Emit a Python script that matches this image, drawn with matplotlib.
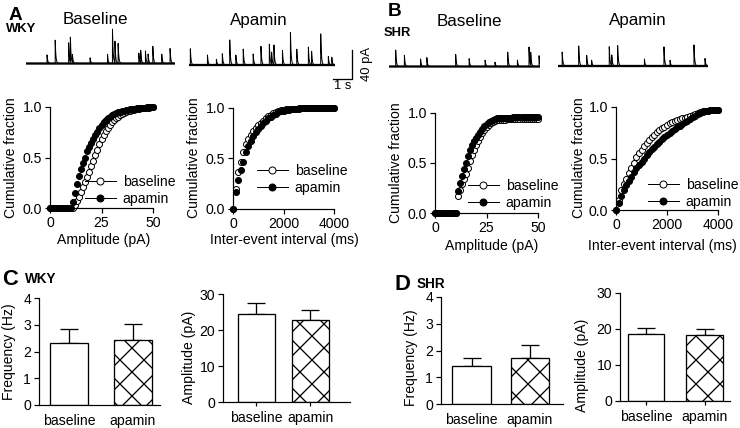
#!/usr/bin/env python3
"""
Spontaneous currents in WKY and SHR neurons: traces, cumulative
distributions and summary bars, baseline vs apamin.
"""

import matplotlib
matplotlib.use("Agg")
import matplotlib.pyplot as plt
from matplotlib.lines import Line2D
import numpy as np

plt.rcParams["font.family"] = ["Liberation Sans", "DejaVu Sans"]

W, H, DPI = 740, 428, 72

# ---- example traces: event time (s) and peak (pA) ----
wky_base_t = [1.11, 1.54, 2.25, 2.34, 2.45, 3.38, 4.30, 4.56, 4.69, 4.86,
              5.95, 6.05, 6.30, 6.44, 6.69, 7.16, 7.60]
wky_base_pa = [12, 33, 29, 35, 11, 8, 13, 50, 31, 28, 15, 18, 18, 13, 24, 13, 21]
wky_base_dur = 7.86

wky_apa_t = [0.07, 0.97, 1.44, 1.75, 2.14, 2.46, 2.85, 3.37, 3.78, 4.22,
             4.34, 4.46, 4.91, 5.33, 5.66, 6.27, 6.44, 6.92, 7.32, 7.50]
wky_apa_pa = [23, 14, 8, 16, 35, 14, 22, 16, 26, 30, 17, 28, 20, 45, 23, 26,
              19, 43, 12, 11]
wky_apa_dur = 7.67

shr_base_t = [0.35, 0.81, 1.66, 1.99, 3.51, 4.22, 5.06, 5.58, 6.25, 6.76,
              7.37, 7.46, 7.90]
shr_base_pa = [24, 16, 11, 13, 17, 11, 9, 6, 20, 9, 28, 18, 15]
shr_base_dur = 7.95

shr_apa_t = [0.22, 1.09, 1.51, 1.77, 2.70, 2.83, 3.14, 4.55, 5.58, 5.90,
             7.16, 7.74]
shr_apa_pa = [20, 28, 15, 8, 27, 15, 29, 10, 27, 8, 30, 11]
shr_apa_dur = 7.90

# ---- cumulative distributions ----
amp_bins = list(range(0, 51))  # pA
wky_amp_base = [0, 0, 0, 0, 0, 0, 0, 0, 0, 0, 0, 0, 0.03, 0.07, 0.11, 0.16,
                0.21, 0.26, 0.31, 0.36, 0.42, 0.47, 0.52, 0.57, 0.63, 0.68,
                0.72, 0.76, 0.79, 0.82, 0.85, 0.87, 0.89, 0.905, 0.92, 0.93,
                0.94, 0.95, 0.958, 0.965, 0.97, 0.975, 0.98, 0.983, 0.986,
                0.989, 0.991, 0.993, 0.995, 0.997, 0.998]
wky_amp_apa = [0, 0, 0, 0, 0, 0, 0, 0, 0, 0, 0, 0.06, 0.15, 0.24, 0.32, 0.39,
               0.45, 0.5, 0.56, 0.6, 0.64, 0.68, 0.72, 0.75, 0.79, 0.82, 0.85,
               0.87, 0.89, 0.905, 0.92, 0.93, 0.94, 0.95, 0.955, 0.96, 0.965,
               0.97, 0.975, 0.978, 0.98, 0.983, 0.986, 0.988, 0.99, 0.992,
               0.994, 0.996, 0.997, 0.998, 1.0]
shr_amp_base = [0, 0, 0, 0, 0, 0, 0, 0, 0, 0, 0, 0.17, 0.23, 0.29, 0.34, 0.39,
                0.45, 0.52, 0.58, 0.63, 0.68, 0.72, 0.76, 0.8, 0.83, 0.86,
                0.88, 0.9, 0.915, 0.925, 0.93, 0.932, 0.933, 0.934, 0.935,
                0.936, 0.937, 0.937, 0.938, 0.938, 0.939, 0.939, 0.94, 0.94,
                0.941, 0.941, 0.942, 0.942, 0.943, 0.944, 0.945]
shr_amp_apa = [0, 0, 0, 0, 0, 0, 0, 0, 0, 0, 0, 0.22, 0.3, 0.37, 0.44, 0.5,
               0.57, 0.63, 0.68, 0.72, 0.75, 0.78, 0.81, 0.84, 0.87, 0.89,
               0.91, 0.925, 0.935, 0.942, 0.948, 0.95, 0.951, 0.952, 0.953,
               0.954, 0.955, 0.955, 0.956, 0.957, 0.958, 0.958, 0.959, 0.96,
               0.96, 0.961, 0.962, 0.962, 0.963, 0.964, 0.965]

iei_bins = list(range(0, 4001, 100))  # ms
wky_iei_base = [0, 0.2, 0.37, 0.47, 0.56, 0.64, 0.69, 0.73, 0.77, 0.8, 0.83,
                0.855, 0.875, 0.9, 0.92, 0.935, 0.95, 0.96, 0.97, 0.977, 0.982,
                0.986, 0.99, 0.992, 0.994, 0.995, 0.996, 0.997, 0.997, 0.998,
                0.998, 0.998, 0.999, 0.999, 0.999, 0.999, 1.0, 1.0, 1.0, 1.0,
                1.0]
wky_iei_apa = [0, 0.17, 0.29, 0.39, 0.47, 0.56, 0.62, 0.67, 0.72, 0.76, 0.79,
               0.82, 0.85, 0.875, 0.9, 0.915, 0.93, 0.945, 0.96, 0.97, 0.975,
               0.98, 0.985, 0.99, 0.992, 0.994, 0.995, 0.996, 0.997, 0.998,
               0.998, 0.999, 0.999, 0.999, 1.0, 1.0, 1.0, 1.0, 1.0, 1.0, 1.0]
shr_iei_base = [0, 0.1, 0.19, 0.25, 0.3, 0.36, 0.41, 0.46, 0.51, 0.55, 0.58,
                0.62, 0.65, 0.68, 0.71, 0.73, 0.755, 0.775, 0.795, 0.81, 0.83,
                0.845, 0.855, 0.865, 0.875, 0.883, 0.89, 0.895, 0.905, 0.915,
                0.925, 0.932, 0.94, 0.95, 0.958, 0.963, 0.966, 0.968, 0.97,
                0.971, 0.972]
shr_iei_apa = [0, 0.07, 0.14, 0.19, 0.24, 0.28, 0.32, 0.37, 0.41, 0.44, 0.47,
               0.5, 0.53, 0.56, 0.59, 0.615, 0.64, 0.665, 0.685, 0.705, 0.73,
               0.75, 0.77, 0.79, 0.805, 0.82, 0.835, 0.85, 0.865, 0.885, 0.9,
               0.915, 0.93, 0.945, 0.953, 0.96, 0.964, 0.967, 0.969, 0.97,
               0.972]

# ---- summary bars (mean, SEM) ----
groups = ["baseline", "apamin"]
wky_freq = [2.32, 2.43]
wky_freq_sem = [0.52, 0.60]
wky_amp = [24.4, 22.7]
wky_amp_sem = [3.2, 2.9]
shr_freq = [1.42, 1.72]
shr_freq_sem = [0.30, 0.48]
shr_amp = [18.6, 18.3]
shr_amp_sem = [1.7, 1.7]

PA_PX = 0.725  # px per pA in the traces
FS = 14


def px_axes(fig, left, top, right, bottom):
    return fig.add_axes([left / W, 1 - bottom / H, (right - left) / W,
                         (bottom - top) / H])


def fig_xy(x, y):
    return x / W, 1 - y / H


def draw_trace(fig, x0, x1, base_y, times, amps, dur):
    ylo, yhi = -6, 56
    ax = px_axes(fig, x0, base_y - yhi * PA_PX, x1, base_y - ylo * PA_PX)
    t = np.linspace(0, dur, 4000)
    y = np.zeros_like(t)
    for t0, a in zip(times, amps):
        m = t >= t0
        y[m] += a * np.exp(-(t[m] - t0) / 0.035)
    ax.plot(t, np.zeros_like(t), color="k", lw=2.3)
    ax.plot(t, y, color="k", lw=1.0)
    ax.set_xlim(0, dur)
    ax.set_ylim(ylo, yhi)
    ax.axis("off")
    return ax


def style_axes(ax):
    for s in ("top", "right"):
        ax.spines[s].set_visible(False)
    for s in ("left", "bottom"):
        ax.spines[s].set_linewidth(1.2)
    ax.tick_params(direction="out", length=5, width=1.2, labelsize=FS, pad=3)


def draw_cdf(fig, box, x, base, apa, xmax, xticks, xlabel, xlab_xy, ylab_xy, leg_xy):
    ax = px_axes(fig, *box)
    ax.plot(x, base, "o", ms=6, mfc="white", mec="k", mew=1.0, clip_on=False, zorder=3)
    ax.plot(x, apa, "o", ms=6, mfc="k", mec="k", mew=1.0, clip_on=False, zorder=4)
    ax.set_xlim(0, xmax)
    ax.set_ylim(0, 1)
    ax.set_xticks(xticks)
    ax.set_yticks([0, 0.5, 1.0])
    ax.set_yticklabels(["0.0", "0.5", "1.0"])
    style_axes(ax)
    ax.set_xlabel(xlabel, fontsize=FS)
    ax.xaxis.set_label_coords(*fig_xy(*xlab_xy), transform=fig.transFigure)
    ax.xaxis.label.set_va("center")
    ax.set_ylabel("Cumulative fraction", fontsize=FS)
    ax.yaxis.set_label_coords(*fig_xy(*ylab_xy), transform=fig.transFigure)
    ax.yaxis.label.set_va("center")
    handles = [Line2D([0], [0], color="k", lw=1, marker="o", ms=7, mfc="white", mec="k"),
               Line2D([0], [0], color="k", lw=1, marker="o", ms=7, mfc="k", mec="k")]
    ax.legend(handles, groups, loc="lower left", bbox_to_anchor=fig_xy(*leg_xy),
              bbox_transform=fig.transFigure, frameon=False, fontsize=FS,
              handlelength=2.2, handletextpad=0.5, labelspacing=0.2,
              borderpad=0, borderaxespad=0)
    return ax


def draw_bars(fig, box, centers_px, bar_w_px, vals, sems, ymax, yticks,
              ylabel, ylab_xy, xticks_on):
    left, top, right, bottom = box
    ax = px_axes(fig, *box)
    unit = centers_px[1] - centers_px[0]
    pos = np.arange(len(groups))
    ax.bar(pos, vals, width=bar_w_px / unit, color="white", edgecolor="k",
           linewidth=1.3, zorder=2)
    ax.patches[1].set_hatch("x")
    ax.errorbar(pos, vals, yerr=[np.zeros(len(vals)), sems], fmt="none",
                ecolor="k", elinewidth=1.3, capsize=9, capthick=1.3, zorder=1)
    ax.set_xlim((left - centers_px[0]) / unit, 1 + (right - centers_px[1]) / unit)
    ax.set_ylim(0, ymax)
    ax.set_yticks(yticks)
    ax.set_xticks(pos)
    ax.set_xticklabels(groups)
    style_axes(ax)
    if xticks_on:
        ax.tick_params(axis="x", length=4, pad=5)
    else:
        ax.tick_params(axis="x", length=0, pad=9)
    ax.set_ylabel(ylabel, fontsize=FS)
    ax.yaxis.set_label_coords(*fig_xy(*ylab_xy), transform=fig.transFigure)
    ax.yaxis.label.set_va("center")
    return ax


def main():
    plt.rcParams["hatch.linewidth"] = 1.3
    fig = plt.figure(figsize=(W / DPI, H / DPI), dpi=DPI)

    def label(x, y, s, size, bold=False):
        fig.text(*fig_xy(x, y), s, fontsize=size, ha="center", va="center",
                 fontweight="bold" if bold else "normal")

    # panel letters and titles
    label(15, 15.5, "A", 19, True)
    label(21, 29.5, "WKY", 13, True)
    label(395, 11, "B", 19, True)
    label(397, 32.5, "SHR", 13, True)
    label(10, 279.5, "C", 22, True)
    label(41, 279, "WKY", 13.5, True)
    label(402, 284.5, "D", 22, True)
    label(431, 284.5, "SHR", 13.5, True)
    label(95, 20, "Baseline", 17)
    label(259, 20, "Apamin", 17)
    label(469, 21, "Baseline", 17)
    label(638, 20, "Apamin", 17)

    # traces
    draw_trace(fig, 26, 175, 63.5, wky_base_t, wky_base_pa, wky_base_dur)
    ax = draw_trace(fig, 189, 335, 65, wky_apa_t, wky_apa_pa, wky_apa_dur)
    draw_trace(fig, 389, 540, 66.5, shr_base_t, shr_base_pa, shr_base_dur)
    draw_trace(fig, 558, 708, 66, shr_apa_t, shr_apa_pa, shr_apa_dur)

    # scale bar: 1 s, 40 pA
    bt, bp = wky_apa_dur + 0.9, -19
    ax.plot([bt - 1, bt, bt], [bp, bp, bp + 40], color="k", lw=1.3, clip_on=False)
    ax.text(bt - 0.5, bp - 2, "1 s", fontsize=13, ha="center", va="top")
    ax.text(bt + 0.45, bp + 20, "40 pA", fontsize=13, ha="left", va="center",
            rotation=90)

    # cumulative plots
    draw_cdf(fig, (50, 107, 153, 208), amp_bins, wky_amp_base, wky_amp_apa, 50,
             [0, 25, 50], "Amplitude (pA)", (104, 240), (11, 158), (85, 206))
    draw_cdf(fig, (233, 108, 334, 209), iei_bins, wky_iei_base, wky_iei_apa, 4000,
             [0, 2000, 4000], "Inter-event interval (ms)", (284, 240), (194, 158),
             (257, 195))
    draw_cdf(fig, (435, 113, 538, 213), amp_bins, shr_amp_base, shr_amp_apa, 50,
             [0, 25, 50], "Amplitude (pA)", (492, 246), (396, 163), (468, 210))
    draw_cdf(fig, (616, 107, 718, 210), iei_bins, shr_iei_base, shr_iei_apa, 4000,
             [0, 2000, 4000], "Inter-event interval (ms)", (662, 246), (579, 158),
             (648, 209))

    # summary bars
    draw_bars(fig, (39, 298, 160, 405), (69, 133), 38, wky_freq, wky_freq_sem, 4,
              [0, 1, 2, 3, 4], "Frequency (Hz)", (9, 352), False)
    draw_bars(fig, (223, 294, 350, 402), (256.5, 310.5), 37, wky_amp, wky_amp_sem,
              30, [0, 10, 20, 30], "Amplitude (pA)", (189, 357), True)
    draw_bars(fig, (441, 297, 563, 404), (471.5, 530), 38.5, shr_freq, shr_freq_sem,
              4, [0, 1, 2, 3, 4], "Frequency (Hz)", (411, 358), False)
    draw_bars(fig, (620, 293, 730, 401), (646, 704.5), 36.5, shr_amp, shr_amp_sem,
              30, [0, 10, 20, 30], "Amplitude (pA)", (582, 365), True)

    fig.savefig("out.png", dpi=DPI)
    plt.close(fig)


if __name__ == "__main__":
    main()
